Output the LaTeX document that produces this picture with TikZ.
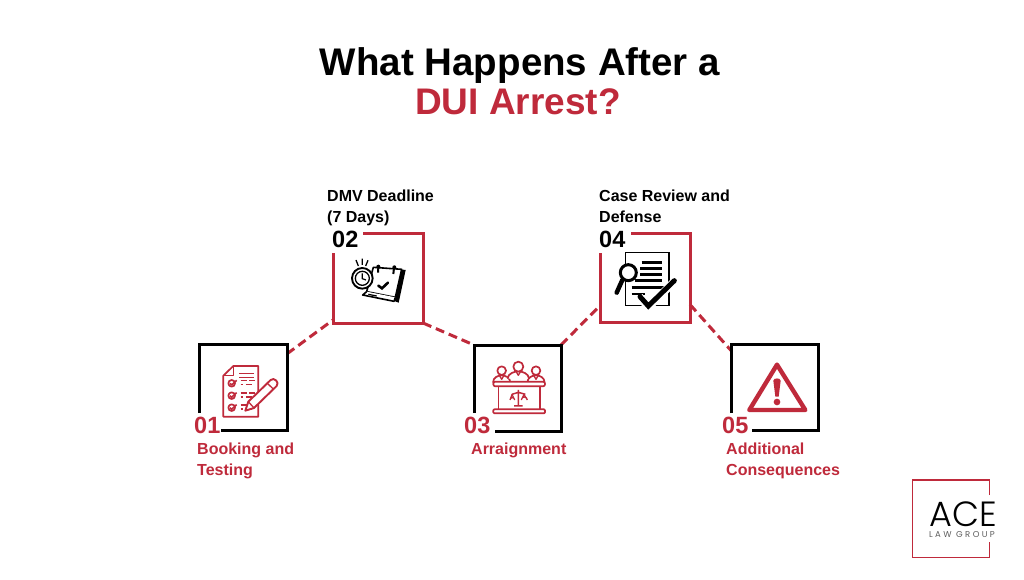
\documentclass[tikz,border=0pt]{standalone}
\usepackage{fontspec}
\setmainfont{Liberation Sans}
\newfontfamily\logofont{Poppins}[UprightFont=* Light]
\newfontfamily\lawfont{Poppins}[LetterSpace=28]
\definecolor{acered}{HTML}{BF2A3B}
\definecolor{logogray}{HTML}{5E5E5E}
\tikzset{
  boxanchor/.style={rectangle,minimum width=#1,inner sep=0pt,outer sep=0pt},
  frameline/.style={line width=3pt,line cap=butt,line join=miter},
  linkline/.style={acered,line width=3pt,dash pattern=on 9pt off 5pt},
  numtext/.style={font=\fontsize{23.5}{24}\selectfont\bfseries,anchor=base west,inner sep=0pt},
  labeltext/.style={font=\fontsize{16}{17}\selectfont\bfseries,anchor=base west,inner sep=0pt},
  titletext/.style={font=\fontsize{38.5}{39}\selectfont\bfseries,inner sep=0pt,anchor=base},
  redicon/.style={acered,line width=#1,line join=round},
  zoomed/.style={x=0.3333pt,y=-0.3333pt}
}
\begin{document}
\begin{tikzpicture}[x=1pt,y=-1pt]
\useasboundingbox[fill=white] (0,0) rectangle (1024,580);

% Title
\node[titletext] (t1) at (520,76) {What Happens After a};
\node[titletext,text=acered,font=\fontsize{37}{37}\selectfont\bfseries] (t2) at (518,115) {DUI Arrest?};

% invisible box nodes
\node[boxanchor=88pt,minimum height=86pt] (b1) at (243,387) {};
\node[boxanchor=90pt,minimum height=90pt] (b2) at (378,278) {};
\node[boxanchor=87pt,minimum height=86pt] (b3) at (517.5,388) {};
\node[boxanchor=90pt,minimum height=89pt] (b4) at (645,277.5) {};
\node[boxanchor=87pt,minimum height=86pt] (b5) at (774.5,387) {};

% connectors
\draw[linkline] (b1.37) -- (b2.223);
\draw[linkline] (b2.south east) -- (b3.north west);
\draw[linkline] (b3.north east) -- (b4.212);
\draw[linkline] (b4.-31) -- (b5.140);

% frames
\draw[frameline,black] (b1.west |- 0,413) -- (b1.north west) -- (b1.north east) -- (b1.south east) -- (221,430);
\draw[frameline,acered] (363,233) -- (b2.north east) -- (b2.south east) -- (b2.south west) -- (333,253);
\draw[frameline,black] (474,413) -- (b3.north west) -- (b3.north east) -- (b3.south east) -- (495,431);
\draw[frameline,acered] (631,233) -- (b4.north east) -- (b4.south east) -- (b4.south west) -- (600,253);
\draw[frameline,black] (731,413) -- (b5.north west) -- (b5.north east) -- (b5.south east) -- (752,430);

% numbers
\node[numtext,text=acered] (n1) at (194,433) {01};
\node[numtext,text=black] (n2) at (332,247) {02};
\node[numtext,text=acered] (n3) at (464,433) {03};
\node[numtext,text=black] (n4) at (599,247) {04};
\node[numtext,text=acered] (n5) at (722,433) {05};

% labels
\node[labeltext,text=acered] (l1a) at (197,454) {Booking and};
\node[labeltext,text=acered] (l1b) at (197,475) {Testing};
\node[labeltext,text=black] (l2a) at (327,201) {DMV Deadline};
\node[labeltext,text=black] (l2b) at (327,222) {(7 Days)};
\node[labeltext,text=acered] (l3) at (471,454) {Arraignment};
\node[labeltext,text=black] (l4a) at (599,201) {Case Review and};
\node[labeltext,text=black] (l4b) at (599,222) {Defense};
\node[labeltext,text=acered] (l5a) at (726,454) {Additional};
\node[labeltext,text=acered] (l5b) at (726,475) {Consequences};

% Icon 1: checklist and pencil
\begin{scope}[shift={(180,330)},zoomed]
  \draw[redicon=1.7pt] (160,108) -- (235,108) -- (235,260) -- (130,260) -- (130,137) -- cycle;
  \draw[redicon=1.4pt] (160,108) -- (160,137) -- (130,137);
  \foreach \yy in {130,143} \draw[redicon=1.6pt] (178,\yy) -- (222,\yy);
  \foreach \yy in {160,197,233}{
    \draw[redicon=1.7pt] (155,\yy) circle (10);
    \draw[redicon=1.6pt] (150,\yy) -- (155,\yy+5) -- (170,\yy-9);
    \draw[redicon=1.6pt] (182,\yy-8) -- (200,\yy-8) (208,\yy-8) -- (224,\yy-8);
    \draw[redicon=1.6pt] (182,\yy+4) -- (190,\yy+4) (198,\yy+4) -- (216,\yy+4);
  }
  \draw[redicon=1.9pt,fill=white] (196,242) -- (205,215) -- (272,150) .. controls (282,140) and (300,158) .. (290,168) -- (222,234) -- cycle;
  \draw[redicon=1.3pt] (205,215) -- (222,234) (262,160) -- (281,178);
\end{scope}

% Icon 2: clock and calendar
\begin{scope}[shift={(310,180)},zoomed]
  \draw[black,line width=1.3pt] (145,258) -- (138,240) (157,255) -- (157,236) (167,258) -- (174,241);
  \fill[black] (287,270) -- (266,368) -- (250,362) -- (270,268) -- cycle;
  \draw[black,line width=1.6pt,fill=white,line join=round] (190,262) -- (275,268) -- (256,352) -- (170,335) -- cycle;
  \draw[black,line width=1.6pt,fill=white,line join=round] (170,335) -- (158,345) -- (252,364) -- (256,352);
  \draw[black,line width=2pt] (205,262) -- (204,278) (252,264) -- (250,282);
  \fill[black] (205,260) circle (6) (253,262) circle (6);
  \draw[black,line width=2.6pt,line cap=round] (205,317) -- (216,325) -- (234,308);
  \draw[black,line width=1.2pt] (175,343) -- (200,348);
  \draw[black,line width=1.9pt,fill=white] (157,295) circle (31);
  \draw[black,line width=1.3pt] (157,295) circle (21);
  \draw[black,line width=1.2pt] (157,280) -- (157,296) -- (168,300);
\end{scope}

% Icon 3: judges' bench
\begin{scope}[shift={(450,330)},zoomed]
  \foreach \cx/\cy/\rr/\sw in {155/122/13/26,258/122/13/26,205/110/15/32}{
    \draw[redicon=1.7pt,fill=white] (\cx-\sw,\cy+36) .. controls (\cx-\sw,\cy+20) and (\cx-10,\cy+14) .. (\cx,\cy+14) .. controls (\cx+10,\cy+14) and (\cx+\sw,\cy+20) .. (\cx+\sw,\cy+36);
    \draw[redicon=1.7pt,fill=white] (\cx,\cy) circle (\rr);
    \draw[redicon=1.3pt] (\cx-7,\cy+14) -- (\cx,\cy+26) -- (\cx+7,\cy+14);
  }
  \draw[redicon=1.7pt,fill=white,rounded corners=2pt] (130,155) rectangle (285,169);
  \draw[redicon=1.5pt] (145,169) rectangle (270,238);
  \draw[redicon=1.7pt,rounded corners=1pt,fill=white] (130,238) rectangle (285,250);
  \draw[redicon=1.5pt] (205,180) -- (205,228) (192,228) -- (218,228) (186,193) -- (205,187) -- (226,193);
  \draw[redicon=1.2pt] (180,210) -- (186,193) -- (194,210) (180,210) arc (180:360:7) (214,210) -- (222,193) -- (232,210) (214,210) arc (180:360:9);
\end{scope}

% Icon 4: document, magnifier and check
\begin{scope}[shift={(585,180)},zoomed]
  \draw[black,line width=1.2pt] (122,217) rectangle (252,377);
  \foreach \yy/\xa/\xb in {247/170/232,265/165/232,283/165/232,302/150/232,322/140/240,342/140/180}
    \draw[black,line width=2.7pt] (\xa,\yy) -- (\xb,\yy);
  \draw[black,line width=4.5pt,line cap=round] (112,300) -- (95,338);
  \draw[black,line width=3pt,fill=white] (130,278) circle (24);
  \draw[white,line width=8pt] (163,350) -- (190,382) -- (270,302);
  \draw[black,line width=5pt,line cap=round,line join=miter] (165,350) -- (190,378) -- (268,302);
\end{scope}

% Icon 5: warning triangle
\begin{scope}[shift={(710,330)},zoomed]
  \draw[acered,line width=4.4pt,line join=round] (201,104) -- (286,240) -- (118,240) -- cycle;
  \fill[acered] (190,152) .. controls (190,143) and (212,143) .. (212,152) -- (206,200) -- (196,200) -- cycle;
  \fill[acered] (201,216) circle (10);
\end{scope}

% Logo
\begin{scope}[shift={(900,470)},zoomed]
  \coordinate (lga) at (268,75);
  \coordinate (lgb) at (268,215);
  \draw[acered,line width=1.5pt] (lga) -- (268,30) -- (37,30) -- (37,262) -- (268,262) -- (lgb);
\end{scope}
\node[font=\fontsize{35}{35}\selectfont\logofont,text=black,inner sep=0pt,anchor=base] (ace) at (963,526) {ACE};
\node[font=\fontsize{8.5}{8.5}\selectfont\lawfont,text=logogray,inner sep=0pt,anchor=base] (lawgroup) at (962,537) {LAW GROUP};
\end{tikzpicture}
\end{document}
